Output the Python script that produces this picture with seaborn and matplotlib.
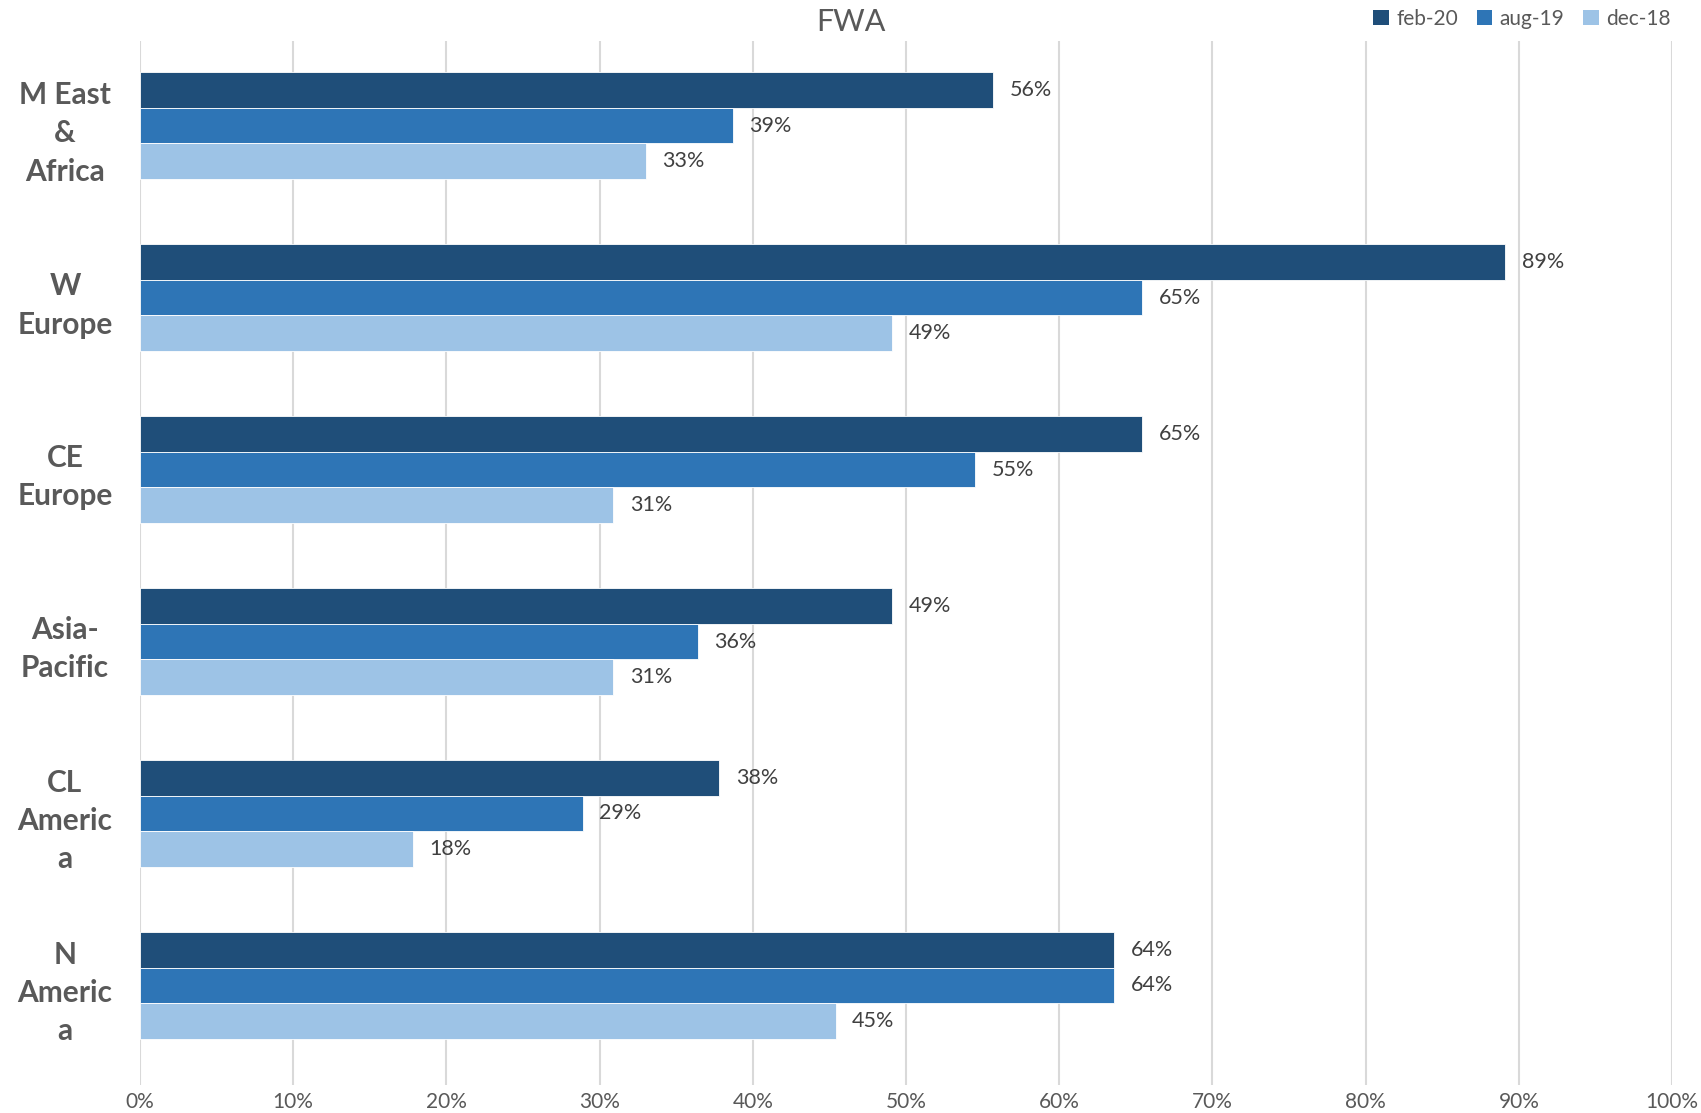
import matplotlib
matplotlib.use("Agg")
import matplotlib.pyplot as plt
import seaborn as sns
import pandas as pd
from matplotlib.patches import Patch

categories = ["M East\n&\nAfrica", "W\nEurope", "CE\nEurope", "Asia-\nPacific", "CL\nAmeric\na", "N\nAmeric\na"]
series = ["feb-20", "aug-19", "dec-18"]
feb20 = [0.557, 0.891, 0.654, 0.491, 0.378, 0.636]
aug19 = [0.387, 0.654, 0.545, 0.364, 0.289, 0.636]
dec18 = [0.330, 0.491, 0.309, 0.309, 0.178, 0.454]
colors = ["#1F4E79", "#2E75B6", "#9DC3E6"]
xticks = [0.0, 0.1, 0.2, 0.3, 0.4, 0.5, 0.6, 0.7, 0.8, 0.9, 1.0]

rows = []
for s, vals in zip(series, [feb20, aug19, dec18]):
    for c, v in zip(categories, vals):
        rows.append({"cat": c, "series": s, "value": v})
df = pd.DataFrame(rows)

sns.set_theme(style="white")
plt.rcParams['font.family'] = ['Lato', 'DejaVu Sans']

fig = plt.figure(figsize=(17.01, 11.13), dpi=100)
ax = fig.add_axes([0.0823, 0.0252, 0.9007, 0.938])

sns.barplot(data=df, x="value", y="cat", hue="series", order=categories,
            hue_order=series, palette=colors, orient="h", width=0.62,
            ax=ax, legend=False, saturation=1, edgecolor="white", linewidth=0.6)

for cont in ax.containers:
    labels = [f"{round(b.get_width()*100):.0f}%" for b in cont]
    ax.bar_label(cont, labels=labels, padding=12, fontsize=15.5, color="#404040")

ax.set_xlim(0, 1)
ax.set_ylim(5.579, -0.493)
ax.set_xticks(xticks)
ax.set_xticklabels([f"{int(round(t*100))}%" for t in xticks], fontsize=15, color="#595959")
ax.tick_params(axis="x", length=0, pad=5)
for lab in ax.get_yticklabels():
    lab.set_fontsize(21.5)
    lab.set_fontweight("bold")
    lab.set_color("#595959")
    lab.set_horizontalalignment("center")
    lab.set_multialignment("center")
    lab.set_linespacing(1.45)
ax.tick_params(axis="y", length=0, pad=54)
ax.set_xlabel("")
ax.set_ylabel("")
ax.grid(axis="x", color="#D9D9D9", linewidth=1.5)
ax.set_axisbelow(True)
for sp in ax.spines.values():
    sp.set_visible(False)

fig.text(0.5, 0.980, "FWA", ha="center", va="center", fontsize=22, color="#595959")

handles = [Patch(facecolor=c, edgecolor="none") for c in colors]
fig.legend(handles, series, loc="center right", bbox_to_anchor=(0.993, 0.983), ncol=3,
           frameon=False, fontsize=15, handlelength=0.75, handleheight=0.75,
           handletextpad=0.35, columnspacing=0.9, labelcolor="#595959")

fig.savefig("out.png", dpi=100)
